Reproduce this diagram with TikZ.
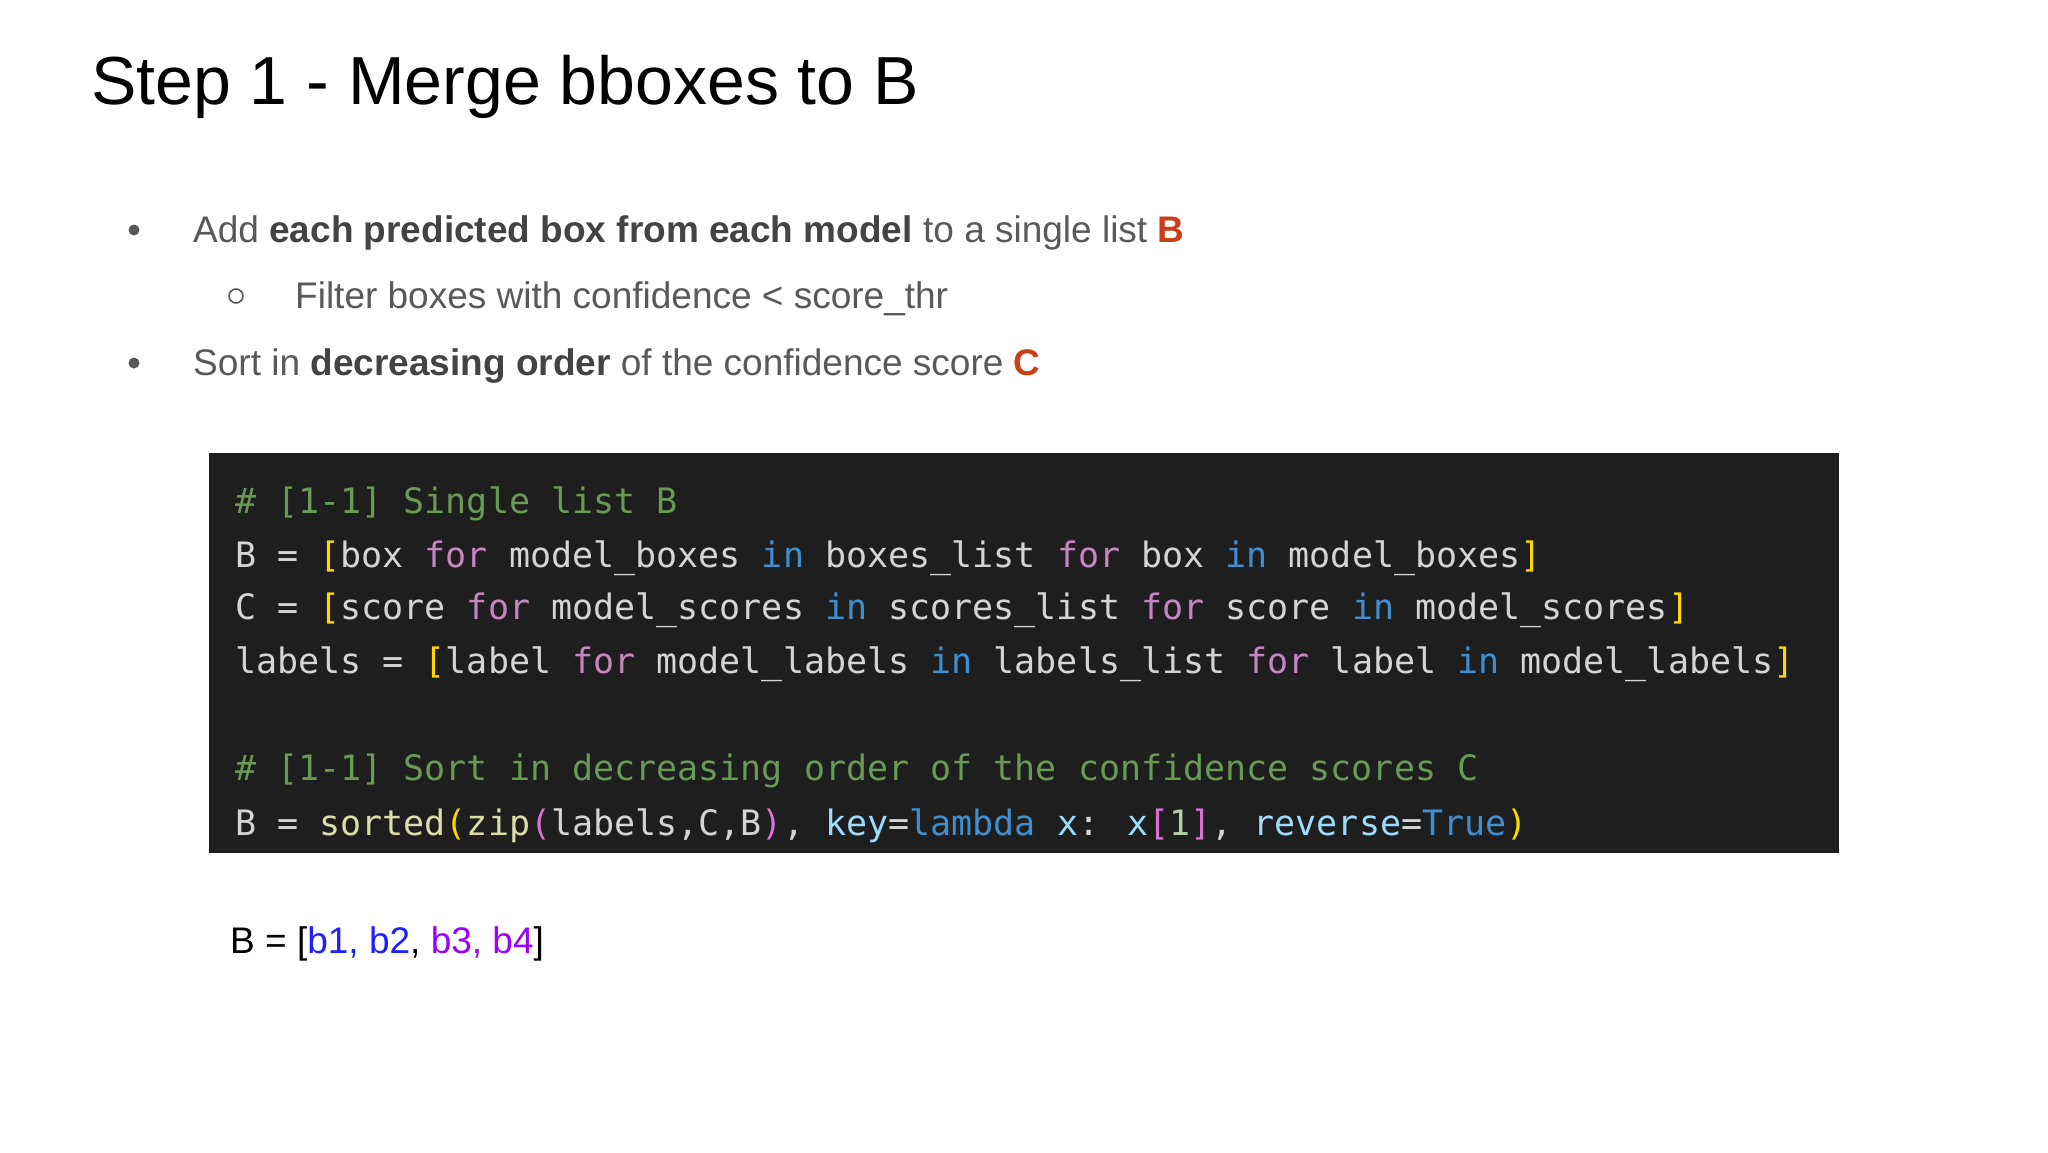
\documentclass[tikz,border=0pt]{standalone}
\usepackage{fontspec}
\setmainfont{Liberation Sans}
\newfontfamily\codefont{DejaVu Sans Mono}[Scale=1]
\definecolor{txt}{HTML}{595959}
\definecolor{bold}{HTML}{434343}
\definecolor{red}{HTML}{CC3D1A}
\definecolor{cbg}{HTML}{1E1E1E}
\definecolor{ccm}{HTML}{6A9955}
\definecolor{ckw}{HTML}{C586C0}
\definecolor{cin}{HTML}{3F8FD0}
\definecolor{cbr}{HTML}{FFD700}
\definecolor{ctx}{HTML}{D4D4D4}
\definecolor{cfn}{HTML}{DCDCAA}
\definecolor{cvar}{HTML}{9CDCFE}
\definecolor{cpk}{HTML}{DA70D6}
\definecolor{cnum}{HTML}{B5CEA8}
\definecolor{bblue}{HTML}{1F1FFF}
\definecolor{bpur}{HTML}{9900FF}
\newcommand\kf{\textcolor{ckw}{for}}
\newcommand\ki{\textcolor{cin}{in}}
\newcommand\lb{\textcolor{cbr}{[}}
\newcommand\rb{\textcolor{cbr}{]}}
\tikzset{
  txtnode/.style={anchor=base west,inner sep=0pt,font=\fontsize{37}{40}\selectfont,text=txt},
  codeline/.style={anchor=base west,inner sep=0pt,font=\codefont\fontsize{35}{38}\selectfont,text=ctx},
  dot/.style={circle,fill=txt,inner sep=0pt,minimum size=11pt},
  ring/.style={circle,draw=txt,line width=1.6pt,inner sep=0pt,minimum size=14pt}
}
\begin{document}
\begin{tikzpicture}[x=1pt,y=-1pt]
\useasboundingbox[fill=white] (0,0) rectangle (2048,1152);
\node[anchor=base west,inner sep=0pt,font=\fontsize{68}{72}\selectfont] (title) at (91,104) {Step 1 - Merge bboxes to B};
\node[dot] (d1) at (134,230) {};
\node[txtnode] (t1) at (193,242) {Add \textcolor{bold}{\bfseries each predicted box from each model} to a single list \textcolor{red}{\bfseries B}};
\node[ring] (d2) at (236,296) {};
\node[txtnode] (t2) at (295,308) {Filter boxes with confidence < score\_thr};
\node[dot] (d3) at (134,363) {};
\node[txtnode] (t3) at (193,375) {Sort in \textcolor{bold}{\bfseries decreasing order} of the confidence score \textcolor{red}{\bfseries C}};
\fill[cbg] (209,453) rectangle (1839,853);
\node[codeline,text=ccm] (c1) at (235,513) {\# [1-1] Single list B};
\node[codeline] (c2) at (235,567) {B = \lb box \kf{} model\_boxes \ki{} boxes\_list \kf{} box \ki{} model\_boxes\rb};
\node[codeline] (c3) at (235,619) {C = \lb score \kf{} model\_scores \ki{} scores\_list \kf{} score \ki{} model\_scores\rb};
\node[codeline] (c4) at (235,673) {labels = \lb label \kf{} model\_labels \ki{} labels\_list \kf{} label \ki{} model\_labels\rb};
\node[codeline,text=ccm] (c5) at (235,780) {\# [1-1] Sort in decreasing order of the confidence scores C};
\node[codeline] (c6) at (235,835) {B = \textcolor{cfn}{sorted}\textcolor{cbr}{(}\textcolor{cfn}{zip}\textcolor{cpk}{(}labels,C,B\textcolor{cpk}{)}, \textcolor{cvar}{key}=\textcolor{cin}{lambda} \textcolor{cvar}{x}: \textcolor{cvar}{x}\textcolor{cpk}{[}\textcolor{cnum}{1}\textcolor{cpk}{]}, \textcolor{cvar}{reverse}=\textcolor{cin}{True}\textcolor{cbr}{)}};
\node[txtnode,text=black] (bl) at (230,953) {B = [\textcolor{bblue}{b1, b2}, \textcolor{bpur}{b3, b4}]};
\end{tikzpicture}
\end{document}
